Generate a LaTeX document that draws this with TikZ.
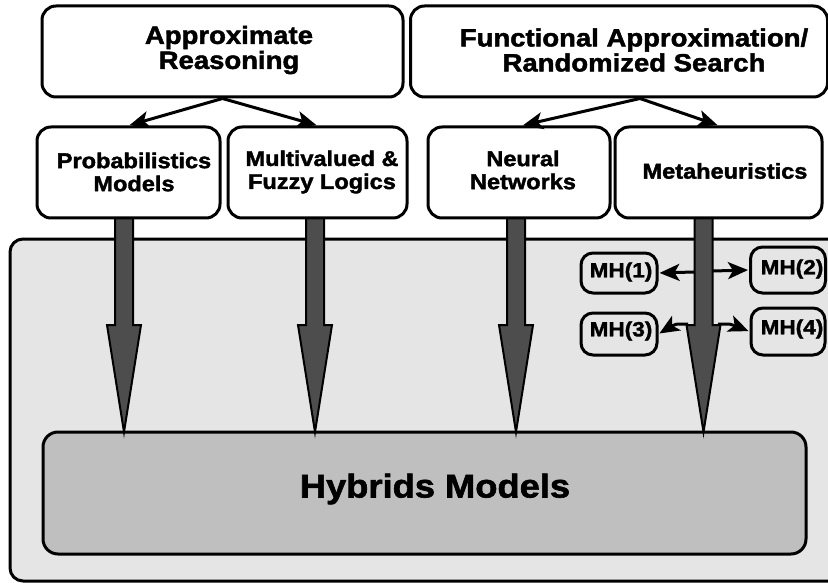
\documentclass[tikz,border=0pt]{standalone}
\usepackage{fontspec}
\setmainfont{Liberation Sans}[FakeStretch=1.1, BoldFeatures={FakeBold=1.8}]
\usetikzlibrary{arrows.meta}

\definecolor{panelgray}{HTML}{E5E5E5}
\definecolor{hybgray}{HTML}{BFBFBF}
\definecolor{shaftgray}{HTML}{4D4D4D}

% broad downward arrow: centre x, top y, neck y, tip y
\newcommand\fatarrow[4]{%
  \draw[shaft] ({#1-9},#2) -- ({#1-9},#3) -- ({#1-17},#3) -- (#1,#4)
    -- ({#1+17},#3) -- ({#1+9},#3) -- ({#1+9},#2) -- cycle;}

\begin{document}
\begin{tikzpicture}[x=1pt,y=-1pt,
  box/.style={draw=black, line width=3pt, rounded corners=14pt, fill=white,
    inner sep=0pt},
  smallbox/.style={box, rounded corners=12pt, fill=panelgray},
  toplbl/.style={font=\fontsize{25}{25}\selectfont\bfseries, align=center, inner sep=0pt},
  midlbl/.style={font=\fontsize{21.4}{23}\selectfont\bfseries, align=center, inner sep=0pt},
  mhlbl/.style={font=\fontsize{20.5}{20}\selectfont\bfseries, inner sep=0pt},
  hyblbl/.style={font=\fontsize{33}{36}\selectfont\bfseries, inner sep=0pt},
  link/.style={line width=3pt, -{Stealth[length=20pt, width=17pt, inset=5pt]},
    shorten >=1pt},
  shaft/.style={draw=black, line width=2pt, fill=shaftgray, line join=miter}
]
\useasboundingbox (0,0) rectangle (828,583);
\fill[white] (0,0) rectangle (828,583);

% shared panel
\draw[line width=3pt, fill=panelgray, rounded corners=13pt]
  (10,239) rectangle (842,581);

% combined models
\node[box, fill=hybgray, rounded corners=15pt, minimum width=763pt,
  minimum height=122pt] (hyb) at (424.5,493) {};
\node[hyblbl] (hybt) at (435,489) {Hybrids Models};

% broad arrows into the combined models
\fatarrow{124}{214}{325}{432}
\fatarrow{315}{214}{325}{432}
\fatarrow{516}{214}{325}{432}
\fatarrow{703.5}{214}{325}{432}

% top row
\node[box, minimum width=361pt, minimum height=91pt] (ar) at (222.5,51.5) {};
\node[toplbl] (art) at (229,50) {Approximate\\Reasoning};
\node[box, minimum width=417pt, minimum height=91pt] (fa) at (619,51.5) {};
\node[toplbl] (fat) at (634,50) {Functional Approximation/\\Randomized Search};

% second row
\node[box, minimum width=183pt, minimum height=91pt] (prob) at (128.5,172.5) {};
\node[midlbl] (probt) at (134,172) {Probabilistics\\Models};
\node[box, minimum width=179pt, minimum height=91pt] (multi) at (317.5,172.5) {};
\node[midlbl] (multit) at (322,172) {Multivalued \&\\Fuzzy Logics};
\node[box, minimum width=182pt, minimum height=91pt] (neural) at (519,172.5) {};
\node[midlbl] (neuralt) at (523,170) {Neural\\Networks};
\node[box, minimum width=207pt, minimum height=91pt] (meta) at (718.5,172.5) {};
\node[midlbl] (metat) at (725,171) {Metaheuristics};

% links between the rows
\draw[link] (ar.south) -- (prob.north);
\draw[link] (ar.south) -- (multi.north);
\draw[link] ([xshift=21pt]fa.south) -- ([xshift=3pt]neural.north);
\draw[link] ([xshift=21pt]fa.south) -- (meta.north);

% metaheuristic variants
\node[smallbox, minimum width=76pt, minimum height=40pt] (mh1) at (619,273) {};
\node[mhlbl] at (621,272) {MH(1)};
\node[smallbox, minimum width=75pt, minimum height=46pt] (mh2) at (788,270) {};
\node[mhlbl] at (792,269) {MH(2)};
\node[smallbox, minimum width=76pt, minimum height=42pt] (mh3) at (619,334) {};
\node[mhlbl] at (621,331) {MH(3)};
\node[smallbox, minimum width=74pt, minimum height=47pt] (mh4) at (788,331.5) {};
\node[mhlbl] at (792,329) {MH(4)};

% branches off the metaheuristics arrow
\coordinate (b1) at (694,272);
\coordinate (b2) at (713,271);
\coordinate (b3) at (688,324);
\coordinate (b4) at (718,324);
\draw[link] (b1) -- (mh1.east);
\draw[link] (b2) -- (mh2.west);
\draw[link] (b3) .. controls (675,324) .. (mh3.east);
\draw[link] (b4) .. controls (731,324) .. (mh4.west);
\end{tikzpicture}
\end{document}
